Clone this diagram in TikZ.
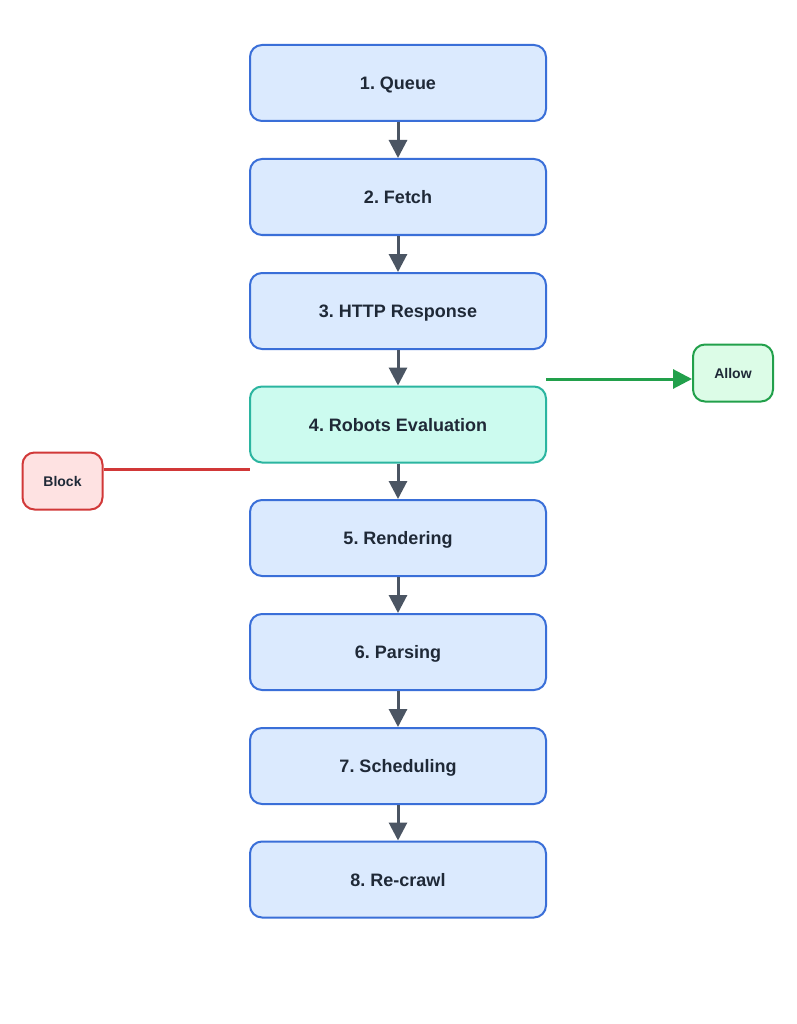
\documentclass[tikz,border=0pt]{standalone}
\usepackage{fontspec}
\setmainfont{Liberation Sans}
\usetikzlibrary{arrows.meta}
\definecolor{bfill}{HTML}{DBEAFE}
\definecolor{bdraw}{HTML}{3A6FD8}
\definecolor{tfill}{HTML}{CCFBEF}
\definecolor{tdraw}{HTML}{2BB5A0}
\definecolor{gfill}{HTML}{DCFCE7}
\definecolor{gdraw}{HTML}{22A04B}
\definecolor{rfill}{HTML}{FEE2E2}
\definecolor{rdraw}{HTML}{D13838}
\definecolor{arr}{HTML}{4B5563}
\definecolor{txt}{HTML}{1F2937}
\frenchspacing
\begin{document}
\begin{tikzpicture}[x=1pt,y=-1pt,
  stepbox/.style={draw=bdraw,fill=bfill,line width=2pt,rounded corners=12pt,minimum width=296pt,minimum height=76pt,inner sep=0pt,text height=13pt,text depth=0pt,font=\bfseries\fontsize{18}{20}\selectfont,text=txt},
  evalbox/.style={stepbox,draw=tdraw,fill=tfill},
  smallbox/.style={line width=2pt,rounded corners=12pt,minimum width=80pt,minimum height=57pt,inner sep=0pt,text height=10pt,text depth=0pt,font=\bfseries\fontsize{14}{16}\selectfont,text=txt},
  flow/.style={draw=arr,line width=3pt,-{Triangle[length=18pt,width=18pt]}}]
\useasboundingbox (0,0) rectangle (796,1024);
\fill[white] (0,0) rectangle (796,1024);
\node[stepbox] (s1) at (398,83) {1. Queue};
\node[stepbox] (s2) at (398,197) {2. Fetch};
\node[stepbox] (s3) at (398,311) {3. HTTP Response};
\node[evalbox] (s4) at (398,424.5) {4. Robots Evaluation};
\node[stepbox] (s5) at (398,538) {5. Rendering};
\node[stepbox] (s6) at (398,652) {6. Parsing};
\node[stepbox] (s7) at (398,766) {7. Scheduling};
\node[stepbox] (s8) at (398,879.5) {8. Re-crawl};
\node[smallbox,draw=gdraw,fill=gfill] (allow) at (733,373) {Allow};
\node[smallbox,draw=rdraw,fill=rfill] (block) at (62.5,481) {Block};
\foreach \a/\b in {s1/s2,s2/s3,s3/s4,s4/s5,s5/s6,s6/s7,s7/s8}
  \draw[flow] (\a.south) -- (\b.north);
\coordinate (gstart) at (546,379);
\coordinate (rend) at (250,469);
\draw[draw=gdraw,line width=3pt,-{Triangle[length=19pt,width=19pt]}] (gstart) -- (gstart -| allow.west);
\draw[draw=rdraw,line width=3pt] (rend -| block.east) -- (rend);
\end{tikzpicture}
\end{document}
